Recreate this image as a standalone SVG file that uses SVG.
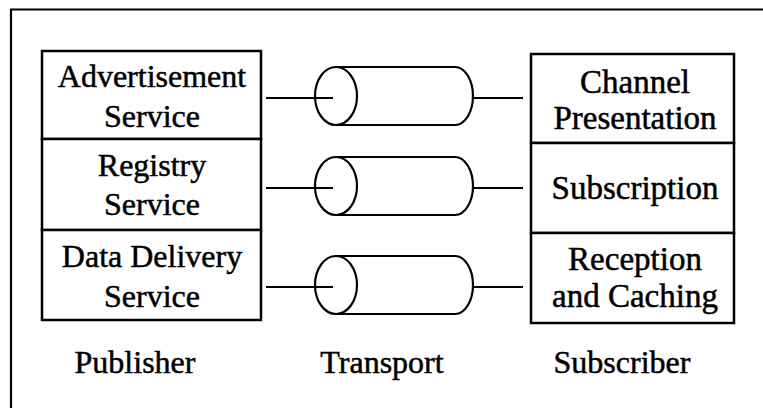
<svg xmlns="http://www.w3.org/2000/svg" width="763" height="408" viewBox="0 0 763 408">
<style>
.t{font-family:'Liberation Serif','Times New Roman',serif;font-size:32px;fill:#000;text-anchor:middle;stroke:#000;stroke-width:0.5}
.r{font-size:33px}
.b{fill:#fff;stroke:#000;stroke-width:2.5}
.l{fill:none;stroke:#000;stroke-width:2.2}
</style>
<rect width="763" height="408" fill="#fff"/>
<g id="frame"><path class="l" d="M11,408 V9.5 H763"/></g>
<g id="advertisement"><rect class="b" x="42" y="51" width="219" height="88"/><text class="t" x="152" y="87">Advertisement</text><text class="t" x="152" y="127">Service</text></g>
<g id="registry"><rect class="b" x="42" y="139" width="219" height="91"/><text class="t" x="152" y="176">Registry</text><text class="t" x="152" y="215">Service</text></g>
<g id="datadelivery"><rect class="b" x="42" y="230" width="219" height="90"/><text class="t" x="152" y="267">Data Delivery</text><text class="t" x="152" y="307">Service</text></g>
<g id="channel"><rect class="b" x="531" y="54" width="203" height="89"/><text class="t r" x="635" y="93">Channel</text><text class="t r" x="635" y="129">Presentation</text></g>
<g id="subscription"><rect class="b" x="531" y="143" width="203" height="90"/><text class="t r" x="635" y="199">Subscription</text></g>
<g id="reception"><rect class="b" x="531" y="233" width="203" height="90"/><text class="t r" x="635" y="270">Reception</text><text class="t r" x="635" y="307">and Caching</text></g>
<g id="transport1"><path class="l" d="M336,67 H455 A18,29 0 0 1 455,125 H336"/><ellipse class="l" cx="336" cy="96" rx="21" ry="29"/></g>
<g id="transport2"><path class="l" d="M336,157 H455 A18,29 0 0 1 455,215 H336"/><ellipse class="l" cx="336" cy="186" rx="21" ry="29"/></g>
<g id="transport3"><path class="l" d="M336,256 H455 A18,29 0 0 1 455,314 H336"/><ellipse class="l" cx="336" cy="285" rx="21" ry="29"/></g>
<g id="connectors">
<line class="l" x1="266" y1="98" x2="333" y2="98"/><line class="l" x1="473" y1="98" x2="523" y2="98"/>
<line class="l" x1="266" y1="188" x2="333" y2="188"/><line class="l" x1="473" y1="188" x2="523" y2="188"/>
<line class="l" x1="266" y1="287" x2="333" y2="287"/><line class="l" x1="473" y1="287" x2="523" y2="287"/>
</g>
<g id="labels"><text class="t" x="135" y="373">Publisher</text><text class="t" x="382" y="373">Transport</text><text class="t" x="622" y="373">Subscriber</text></g>
</svg>
